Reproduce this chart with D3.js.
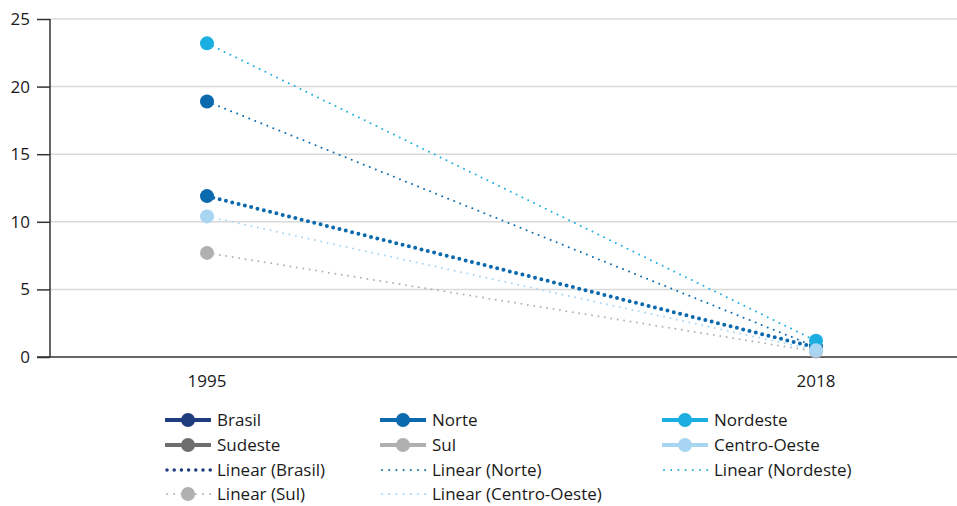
<!DOCTYPE html>
<html>
<head>
<meta charset="utf-8">
<script src="https://cdn.jsdelivr.net/npm/d3@7"></script>
<style>
  html, body { margin: 0; padding: 0; background: #fff; }
  svg { display: block; font-family: "Open Sans", "Liberation Sans", sans-serif; }
</style>
</head>
<body>
<svg id="chart" width="957" height="506"></svg>
<script>
// Categories (years) and per-region values
const years = ["1995", "2018"];
const regions = ["Brasil", "Norte", "Nordeste", "Sudeste", "Sul", "Centro-Oeste"];
const brasil = [11.9, 0.7];
const norte = [18.9, 0.75];
const nordeste = [23.2, 1.2];
const sul = [7.7, 0.4];
const centroOeste = [10.4, 0.5];
const yTicks = [0, 5, 10, 15, 20, 25];

(function () {
const svg = d3.select("#chart");
const plotLeft = 50, plotRight = 957, plotTop = 19, plotBottom = 357;
const textColor = "#1a1a1a";
const fontSize = 17;

const x = d3.scalePoint().domain(years).range([207, 816]);
const y = d3.scaleLinear().domain([0, 25]).range([plotBottom, plotTop]);

// Gridlines
svg.append("g").selectAll("line").data(yTicks.filter(d => d > 0)).join("line")
  .attr("x1", plotLeft).attr("x2", plotRight)
  .attr("y1", d => y(d)).attr("y2", d => y(d))
  .attr("stroke", "#d9d9d9").attr("stroke-width", 1.5);

// Y axis
const yAxis = svg.append("g").attr("transform", `translate(${plotLeft},0)`)
  .call(d3.axisLeft(y).tickValues(yTicks).tickSize(13).tickPadding(7));
yAxis.select(".domain").attr("stroke", "#333").attr("stroke-width", 1.5).attr("d", `M0,${plotTop}V${plotBottom}`);
yAxis.selectAll(".tick line").attr("stroke", "#333").attr("stroke-width", 1.5);
yAxis.selectAll("text").attr("font-size", fontSize).attr("fill", textColor).attr("font-family", "Open Sans");

// X axis baseline and year labels
svg.append("line").attr("x1", 37).attr("x2", plotRight).attr("y1", plotBottom).attr("y2", plotBottom)
  .attr("stroke", "#333").attr("stroke-width", 1.5);
svg.append("g").selectAll("text").data(years).join("text")
  .attr("x", d => x(d)).attr("y", 387).attr("text-anchor", "middle")
  .attr("font-size", fontSize).attr("fill", textColor).text(d => d);

// Trend lines (dotted) between the two years
const trends = [
  { name: "Sul", values: sul, color: "#b3b3b3", w: 2, dash: "0 6.5" },
  { name: "Centro-Oeste", values: centroOeste, color: "#a8d5f2", w: 2, dash: "0 6.5" },
  { name: "Norte", values: norte, color: "#0b6aad", w: 2, dash: "0 6.5" },
  { name: "Nordeste", values: nordeste, color: "#1aafe0", w: 2, dash: "0 6.5" },
  { name: "Brasil", values: brasil, color: "#0b6aad", w: 4, dash: "0 6.5" }
];
const line = d3.line().x((d, i) => x(years[i])).y(d => y(d));
svg.append("g").selectAll("path").data(trends).join("path")
  .attr("d", d => line(d.values))
  .attr("fill", "none").attr("stroke", d => d.color)
  .attr("stroke-width", d => d.w).attr("stroke-linecap", "round")
  .attr("stroke-dasharray", d => d.dash);

// Point markers
const pts = [
  { values: sul, color: "#b0b0b0" },
  { values: brasil, color: "#0b6aad" },
  { values: norte, color: "#0b6aad" },
  { values: nordeste, color: "#1aafe0" },
  { values: centroOeste, color: "#a8d5f2" }
];
const pg = svg.append("g");
pts.forEach(s => {
  pg.append("g").selectAll("circle").data(s.values).join("circle")
    .attr("cx", (d, i) => x(years[i])).attr("cy", d => y(d))
    .attr("r", 7).attr("fill", s.color);
});

// Legend
const legendItems = [
  { label: "Brasil", color: "#1f3c7e", type: "solid" },
  { label: "Norte", color: "#0b6aad", type: "solid" },
  { label: "Nordeste", color: "#1aafe0", type: "solid" },
  { label: "Sudeste", color: "#6e6e6e", type: "solid" },
  { label: "Sul", color: "#b0b0b0", type: "solid" },
  { label: "Centro-Oeste", color: "#a8d5f2", type: "solid" },
  { label: "Linear (Brasil)", color: "#1f3c7e", type: "thickdot" },
  { label: "Linear (Norte)", color: "#0b6aad", type: "dot" },
  { label: "Linear (Nordeste)", color: "#1aafe0", type: "dot" },
  { label: "Linear (Sul)", color: "#b0b0b0", type: "dotcircle" },
  { label: "Linear (Centro-Oeste)", color: "#a8d5f2", type: "dot" }
];
const colX = [165, 380, 662];
const rowY = [420, 445, 470, 494];
const lg = svg.append("g");
legendItems.forEach((it, i) => {
  const cx = colX[i % 3], cy = rowY[Math.floor(i / 3)];
  const g = lg.append("g").attr("transform", `translate(${cx},${cy})`);
  if (it.type === "solid") {
    g.append("line").attr("x1", 0).attr("x2", 46).attr("y1", 0).attr("y2", 0)
      .attr("stroke", it.color).attr("stroke-width", 4);
    g.append("circle").attr("cx", 23).attr("cy", 0).attr("r", 7).attr("fill", it.color);
  } else {
    const thick = it.type === "thickdot";
    g.append("line").attr("x1", 2).attr("x2", 46).attr("y1", 0).attr("y2", 0)
      .attr("stroke", it.color).attr("stroke-width", thick ? 3.5 : 2)
      .attr("stroke-linecap", "round").attr("stroke-dasharray", "0 7.2");
    if (it.type === "dotcircle")
      g.append("circle").attr("cx", 23).attr("cy", 0).attr("r", 7).attr("fill", it.color);
  }
  g.append("text").attr("x", 52).attr("y", 0).attr("dy", "0.35em")
    .attr("font-size", fontSize).attr("fill", textColor).text(it.label);
});
})();
</script>
</body>
</html>
